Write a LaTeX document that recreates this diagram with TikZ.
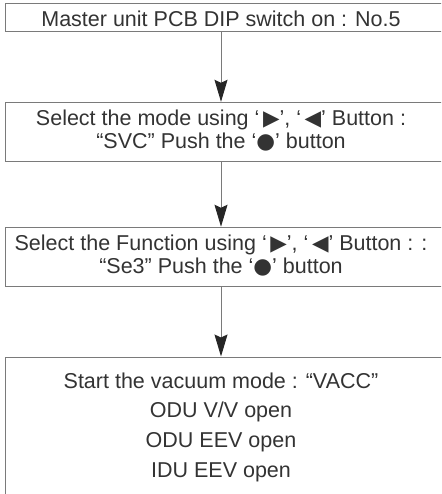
\documentclass[tikz,border=0pt]{standalone}
\usepackage{fontspec}
\setmainfont{Liberation Sans}
\newfontfamily\symfont{DejaVu Sans}
\usetikzlibrary{arrows.meta}
\definecolor{boxgray}{HTML}{7A7A7A}
\definecolor{textgray}{HTML}{333333}
\newcommand{\rtri}{\,{\symfont ▶}}
\newcommand{\ltri}{\,{\symfont ◀}}
\newcommand{\okdot}{{\symfont ●}}
\begin{document}
\begin{tikzpicture}[x=1pt, y=-1pt, line width=1pt,
  box/.style={draw=boxgray, minimum width=440.5pt, inner sep=0pt},
  txt/.style={font=\fontsize{21.5}{23}\selectfont, text=textgray, align=center, inner sep=0pt},
  arr/.style={draw=boxgray, -{Stealth[length=22pt, width=13pt, inset=3pt, color=black!85]}}]
  \useasboundingbox (0,0) rectangle (441,494);
  \clip (0,0) rectangle (441,494);
  \node[box, minimum height=28.5pt] (box1) at (225.75,17.75) {};
  \node[box, minimum height=59pt] (box2) at (225.75,131.8) {};
  \node[box, minimum height=59.5pt] (box3) at (225.75,257) {};
  \node[box, minimum height=163pt] (box4) at (225.75,438.5) {};
  \node[txt] (step1) at (221,19) {Master unit PCB DIP switch on : No.5};
  \node[txt] (step2) at (221,131) {Select the mode using ‘\rtri’, ‘\ltri’ Button :\\“SVC” Push the ‘\okdot’ button};
  \node[txt] (step3) at (221,256) {Select the Function using ‘\rtri’, ‘\ltri’ Button : :\\“Se3” Push the ‘\okdot’ button};
  \node[txt, font=\fontsize{21.5}{29.7}\selectfont] (step4) at (221,427) {Start the vacuum mode : “VACC”\\ODU V/V open\\ODU EEV open\\IDU EEV open};
  \draw[arr] (box1.south -| step1) -- (box2.north -| step1);
  \draw[arr] (box2.south -| step2) -- (box3.north -| step2);
  \draw[arr] (box3.south -| step3) -- (box4.north -| step3);
\end{tikzpicture}
\end{document}
